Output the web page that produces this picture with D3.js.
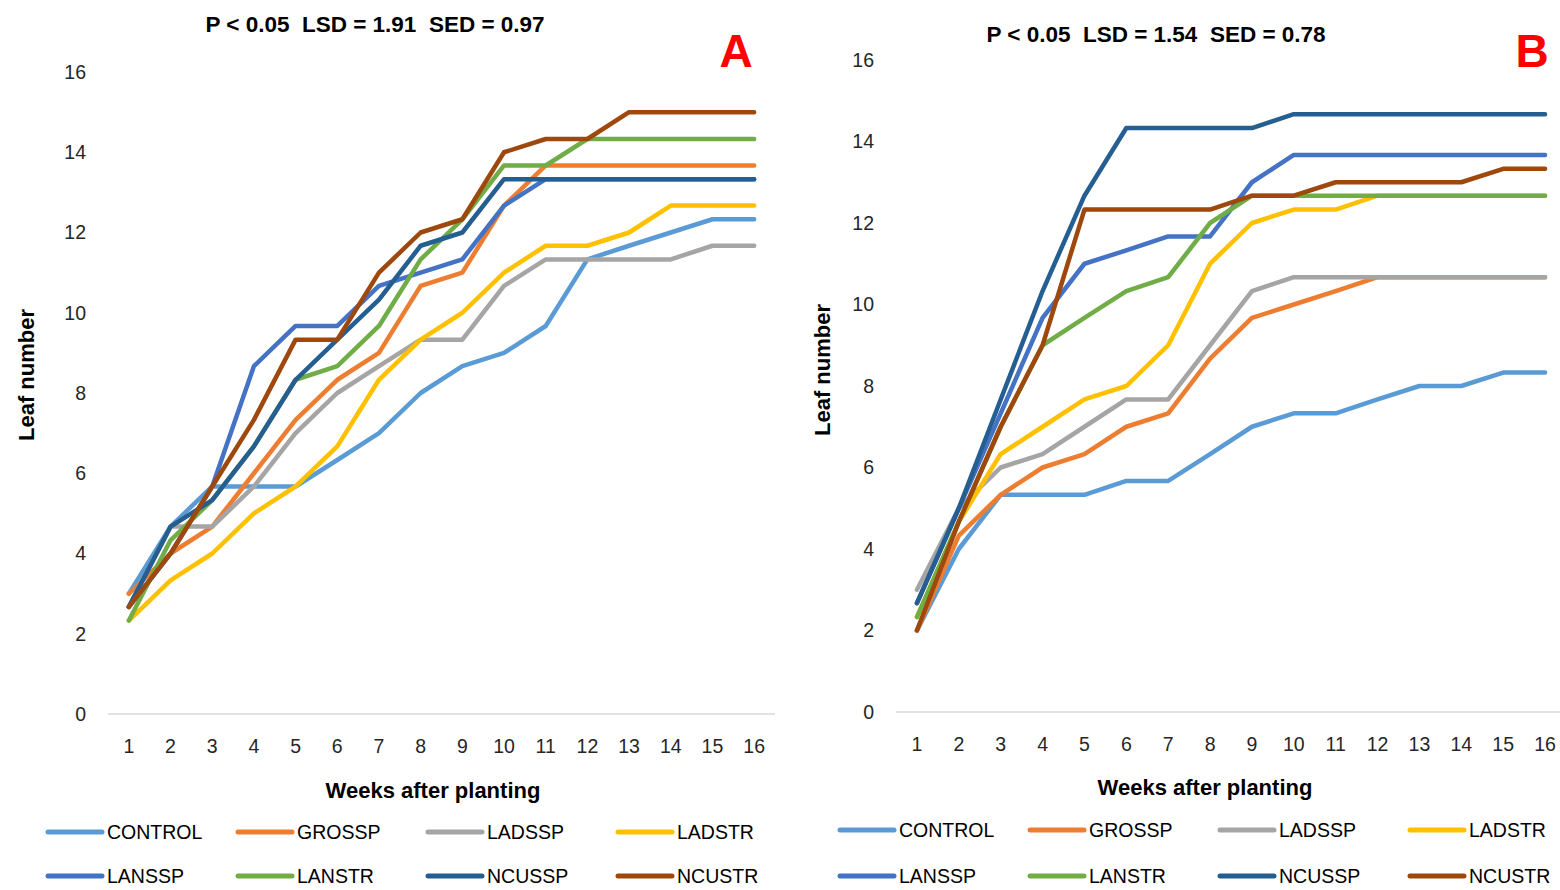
<!DOCTYPE html>
<html>
<head>
<meta charset="utf-8">
<script src="https://cdn.jsdelivr.net/npm/d3@7/dist/d3.min.js"></script>
<style>
  body { margin: 0; background: #fff; }
  svg { display: block; font-family: 'Liberation Sans', Arial, sans-serif; }
  .tick-label { font-size: 19.5px; fill: #262626; }
  .axis-title { font-size: 22px; font-weight: bold; fill: #000; }
  .stats { font-size: 22.5px; font-weight: bold; fill: #000; white-space: pre; }
  .panel-letter { font-size: 46px; font-weight: bold; fill: #ff0000; }
  .legend-text { font-size: 19.5px; fill: #000; }
</style>
</head>
<body>
<div id="main"></div>
<script>
// Data
var weeks = ['1', '2', '3', '4', '5', '6', '7', '8', '9', '10', '11', '12', '13', '14', '15', '16'];
var yTicks = [0, 2, 4, 6, 8, 10, 12, 14, 16];
var seriesNames = ['CONTROL', 'GROSSP', 'LADSSP', 'LADSTR', 'LANSSP', 'LANSTR', 'NCUSSP', 'NCUSTR'];
var seriesColors = ['#5B9BD5', '#ED7D31', '#A5A5A5', '#FFC000', '#4472C4', '#70AD47', '#255E91', '#9E480E'];

// panel A
var controlA = [3, 4.67, 5.67, 5.67, 5.67, 6.33, 7, 8, 8.67, 9, 9.67, 11.33, 11.67, 12, 12.33, 12.33];
var grosspA = [3, 4, 4.67, 6, 7.33, 8.33, 9, 10.67, 11, 12.67, 13.67, 13.67, 13.67, 13.67, 13.67, 13.67];
var ladsspA = [2.67, 4.67, 4.67, 5.67, 7, 8, 8.67, 9.33, 9.33, 10.67, 11.33, 11.33, 11.33, 11.33, 11.67, 11.67];
var ladstrA = [2.33, 3.33, 4, 5, 5.67, 6.67, 8.33, 9.33, 10, 11, 11.67, 11.67, 12, 12.67, 12.67, 12.67];
var lansspA = [2.67, 4, 5.67, 8.67, 9.67, 9.67, 10.67, 11, 11.33, 12.67, 13.33, 13.33, 13.33, 13.33, 13.33, 13.33];
var lanstrA = [2.33, 4.33, 5.33, 6.67, 8.33, 8.67, 9.67, 11.33, 12.33, 13.67, 13.67, 14.33, 14.33, 14.33, 14.33, 14.33];
var ncusspA = [2.67, 4.67, 5.33, 6.67, 8.33, 9.33, 10.33, 11.67, 12, 13.33, 13.33, 13.33, 13.33, 13.33, 13.33, 13.33];
var ncustrA = [2.67, 4, 5.67, 7.33, 9.33, 9.33, 11, 12, 12.33, 14, 14.33, 14.33, 15, 15, 15, 15];

// panel B
var controlB = [2, 4, 5.33, 5.33, 5.33, 5.67, 5.67, 6.33, 7, 7.33, 7.33, 7.67, 8, 8, 8.33, 8.33];
var grosspB = [2, 4.33, 5.33, 6, 6.33, 7, 7.33, 8.67, 9.67, 10, 10.33, 10.67, 10.67, 10.67, 10.67, 10.67];
var ladsspB = [3, 5, 6, 6.33, 7, 7.67, 7.67, 9, 10.33, 10.67, 10.67, 10.67, 10.67, 10.67, 10.67, 10.67];
var ladstrB = [2.33, 4.67, 6.33, 7, 7.67, 8, 9, 11, 12, 12.33, 12.33, 12.67, 12.67, 12.67, 12.67, 12.67];
var lansspB = [2.67, 5, 7.33, 9.67, 11, 11.33, 11.67, 11.67, 13, 13.67, 13.67, 13.67, 13.67, 13.67, 13.67, 13.67];
var lanstrB = [2.33, 4.67, 7, 9, 9.67, 10.33, 10.67, 12, 12.67, 12.67, 12.67, 12.67, 12.67, 12.67, 12.67, 12.67];
var ncusspB = [2.67, 5, 7.67, 10.33, 12.67, 14.33, 14.33, 14.33, 14.33, 14.67, 14.67, 14.67, 14.67, 14.67, 14.67, 14.67];
var ncustrB = [2, 4.67, 7, 9, 12.33, 12.33, 12.33, 12.33, 12.67, 12.67, 13, 13, 13, 13, 13.33, 13.33];

var svgWidth = 1560;
var svgHeight = 890;

var svg = d3.select('#main')
  .append('svg')
  .attr('width', svgWidth)
  .attr('height', svgHeight);

// layout for each panel (pixel frame of the plot area)
var panels = [
  {
    letter: 'A', stats: 'P < 0.05  LSD = 1.91  SED = 0.97',
    series: [controlA, grosspA, ladsspA, ladstrA, lansspA, lanstrA, ncusspA, ncustrA],
    x0: 108, x1: 775, yBottom: 714, yTop: 72,
    statsPos: [375, 32], letterPos: [736, 67],
    yLabelPos: [34, 375], xLabelPos: [433, 798], xTickY: 753,
    legendX: 48, legendY: [832, 876]
  },
  {
    letter: 'B', stats: 'P < 0.05  LSD = 1.54  SED = 0.78',
    series: [controlB, grosspB, ladsspB, ladstrB, lansspB, lanstrB, ncusspB, ncustrB],
    x0: 896, x1: 1566, yBottom: 712, yTop: 60,
    statsPos: [1156, 42], letterPos: [1532, 67],
    yLabelPos: [830, 370], xLabelPos: [1205, 795], xTickY: 751,
    legendX: 840, legendY: [830, 876]
  }
];

panels.forEach(function (p) {
  var g = svg.append('g');

  var xScale = d3.scalePoint()
    .domain(weeks)
    .range([p.x0, p.x1])
    .padding(0.5);

  var yScale = d3.scaleLinear()
    .domain([0, 16])
    .range([p.yBottom, p.yTop]);

  // baseline (category axis line)
  g.append('line')
    .attr('x1', p.x0).attr('x2', Math.min(p.x1, svgWidth))
    .attr('y1', yScale(0)).attr('y2', yScale(0))
    .attr('stroke', '#d9d9d9')
    .attr('stroke-width', 1.3);

  // y tick labels
  g.selectAll('.ytick')
    .data(yTicks)
    .enter()
    .append('text')
    .attr('class', 'tick-label')
    .attr('x', p.x0 - 22)
    .attr('y', (d) => yScale(d))
    .attr('dy', '0.35em')
    .attr('text-anchor', 'end')
    .text((d) => d);

  // x tick labels
  g.selectAll('.xtick')
    .data(weeks)
    .enter()
    .append('text')
    .attr('class', 'tick-label')
    .attr('x', (d) => xScale(d))
    .attr('y', p.xTickY)
    .attr('text-anchor', 'middle')
    .text((d) => d);

  // lines
  var line = d3.line()
    .x((d, i) => xScale(weeks[i]))
    .y((d) => yScale(d));

  p.series.forEach(function (values, i) {
    g.append('path')
      .attr('d', line(values))
      .attr('fill', 'none')
      .attr('stroke', seriesColors[i])
      .attr('stroke-width', 4.5)
      .attr('stroke-linejoin', 'round')
      .attr('stroke-linecap', 'round');
  });

  // titles
  g.append('text')
    .attr('class', 'stats')
    .attr('x', p.statsPos[0])
    .attr('y', p.statsPos[1])
    .attr('text-anchor', 'middle')
    .text(p.stats);

  g.append('text')
    .attr('class', 'panel-letter')
    .attr('x', p.letterPos[0])
    .attr('y', p.letterPos[1])
    .attr('text-anchor', 'middle')
    .text(p.letter);

  g.append('text')
    .attr('class', 'axis-title')
    .attr('transform', 'translate(' + p.yLabelPos + ') rotate(-90)')
    .attr('text-anchor', 'middle')
    .text('Leaf number');

  g.append('text')
    .attr('class', 'axis-title')
    .attr('x', p.xLabelPos[0])
    .attr('y', p.xLabelPos[1])
    .attr('text-anchor', 'middle')
    .text('Weeks after planting');

  // legend, 4 per row
  seriesNames.forEach(function (name, i) {
    var lx = p.legendX + (i % 4) * 190;
    var ly = p.legendY[Math.floor(i / 4)];
    g.append('line')
      .attr('x1', lx).attr('x2', lx + 54)
      .attr('y1', ly).attr('y2', ly)
      .attr('stroke', seriesColors[i])
      .attr('stroke-width', 5)
      .attr('stroke-linecap', 'round');
    g.append('text')
      .attr('class', 'legend-text')
      .attr('x', lx + 59)
      .attr('y', ly)
      .attr('dy', '0.35em')
      .text(name);
  });
});
</script>
</body>
</html>
